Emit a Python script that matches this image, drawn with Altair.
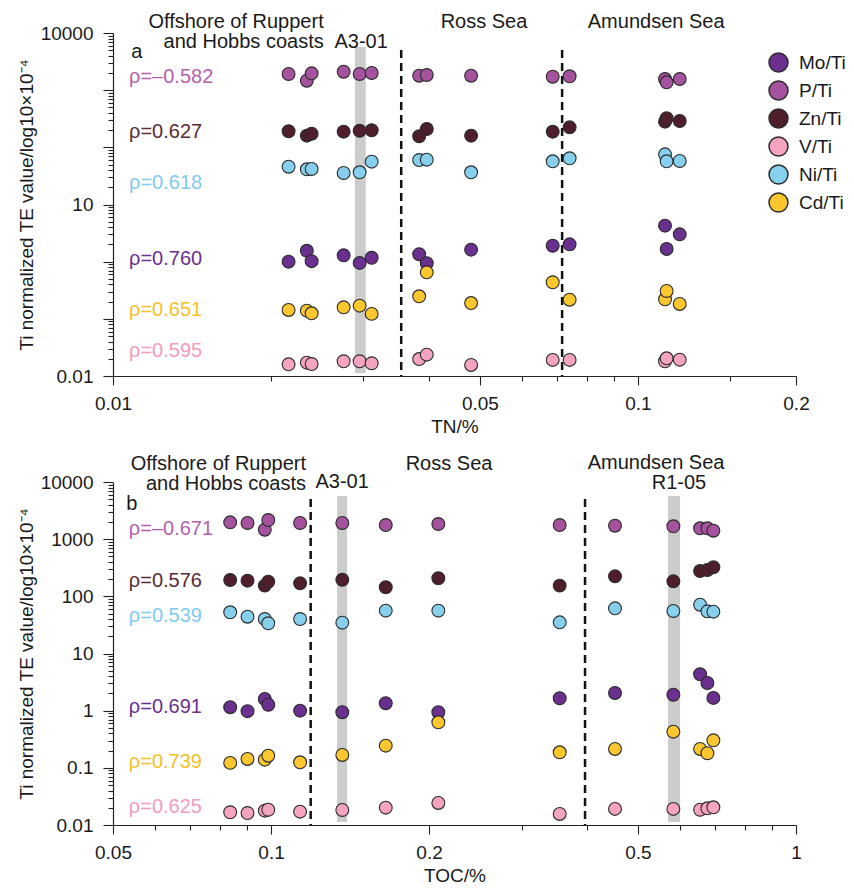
import altair as alt
import pandas as pd

FONT = "Liberation Sans"
series = ["Mo/Ti", "P/Ti", "Zn/Ti", "V/Ti", "Ni/Ti", "Cd/Ti"]
colors = ["#6a2f8f", "#a5539f", "#4e1e2b", "#f4a3c0", "#86d0ee", "#fcc62f"]
rho_colors = ["#b460ab", "#5a2a35", "#7fcbee", "#6a2f8f", "#f5c02a", "#f29bbd"]

# ---- panel a : TN/% ----
tn_a = [0.0216, 0.0234, 0.0239, 0.0275, 0.0295, 0.0311, 0.0383, 0.0396, 0.0481, 0.0688, 0.0741, 0.1126, 0.1134, 0.1201]
mo_a = [1.00, 1.55, 1.02, 1.29, 0.95, 1.17, 1.35, 0.94, 1.62, 1.90, 2.01, 4.26, 1.67, 3.01]
p_a = [1918, 1464, 1972, 2104, 1918, 1997, 1791, 1842, 1791, 1720, 1748, 1568, 1373, 1568]
zn_a = [191, 160, 173, 188, 195, 199, 156, 209, 160, 188, 224, 281, 322, 289]
v_a = [0.0160, 0.0171, 0.0162, 0.0181, 0.0181, 0.0167, 0.0198, 0.0236, 0.0156, 0.0191, 0.0191, 0.0181, 0.0204, 0.0193]
ni_a = [45.8, 41.3, 41.8, 35.6, 36.6, 56.1, 60.0, 60.8, 36.6, 57.0, 64.3, 75.5, 57.0, 57.7]
cd_a = [0.143, 0.139, 0.125, 0.159, 0.170, 0.122, 0.248, 0.651, 0.189, 0.436, 0.216, 0.220, 0.307, 0.182]
rho_a = ["ρ=–0.582", "ρ=0.627", "ρ=0.618", "ρ=0.760", "ρ=0.651", "ρ=0.595"]
rho_a_y = [1700, 185, 23.8, 1.11, 0.143, 0.0274]
dash_a = [0.0354, 0.0717]
band_a = [(0.0289, 0.0303)]

# ---- panel b : TOC/% ----
toc_b = [0.0836, 0.0902, 0.0973, 0.0988, 0.1136, 0.1367, 0.1654, 0.2083, 0.3547, 0.4521, 0.584, 0.6566, 0.678, 0.696]
mo_b = [1.15, 0.98, 1.60, 1.27, 1.00, 0.94, 1.35, 0.94, 1.65, 2.04, 1.90, 4.33, 3.05, 1.67]
p_b = [1972, 1918, 1464, 2164, 1918, 1918, 1769, 1842, 1769, 1720, 1680, 1550, 1550, 1406]
zn_b = [193, 188, 154, 180, 169, 195, 144, 207, 154, 224, 183, 277, 289, 322]
v_b = [0.0167, 0.0162, 0.0178, 0.0185, 0.0171, 0.0183, 0.0201, 0.0243, 0.0156, 0.0191, 0.0191, 0.0185, 0.0196, 0.0204]
ni_b = [52.6, 44.0, 40.1, 33.8, 40.1, 34.6, 56.1, 56.1, 35.1, 61.7, 55.4, 71.4, 54.7, 53.9]
cd_b = [0.122, 0.143, 0.139, 0.163, 0.125, 0.168, 0.244, 0.626, 0.187, 0.214, 0.429, 0.214, 0.180, 0.303]
rho_b = ["ρ=–0.671", "ρ=0.576", "ρ=0.539", "ρ=0.691", "ρ=0.739", "ρ=0.625"]
rho_b_y = [1506, 185, 45.3, 1.16, 0.126, 0.0207]
dash_b = [0.1190, 0.3964]
band_b = [(0.1336, 0.1396), (0.5704, 0.6014)]

# axis ticks / labels
x_a_ticks = [0.01, 0.02, 0.03, 0.04, 0.05, 0.06, 0.07, 0.08, 0.09, 0.1, 0.15, 0.2]
x_a_labels = [0.01, 0.05, 0.1, 0.2]
x_b_ticks = [0.05, 0.06, 0.07, 0.08, 0.09, 0.1, 0.2, 0.3, 0.4, 0.5, 0.6, 0.7, 0.8, 0.9, 1]
x_b_labels = [0.05, 0.1, 0.2, 0.5, 1]
y_ticks = sorted([round(m * 10 ** k, 8) for k in range(-2, 4) for m in range(1, 10)] + [10000])
y_a_labels = [0.01, 10, 10000]
y_b_labels = [0.01, 0.1, 1, 10, 100, 1000, 10000]

W, H = 683, 343
TXT = 20


def fmt_list(v):
    return "[" + ",".join(repr(x) for x in v) + "]"


def make_panel(xs, ys_by_series, xtitle, xdomain, xticks, xlabels, ylabels,
               rho_txt, rho_y, rho_x, dashes, bands, right_txt, center_txt, letter,
               legend):
    rows = []
    for s, vals in zip(series, ys_by_series):
        for x, y in zip(xs, vals):
            rows.append({"x": x, "y": y, "s": s})
    pts = pd.DataFrame(rows)

    xaxis = alt.Axis(
        values=xticks, format="~g", title=xtitle, grid=False,
        labelExpr=f"indexof({fmt_list(xlabels)}, datum.value) >= 0 ? datum.label : ''",
        tickSize={"condition": {"test": f"indexof({fmt_list(xlabels)}, datum.value) >= 0", "value": 9}, "value": 5},
        labelFlush=False, labelPadding=9, titlePadding=4,
        labelFontSize=19, titleFontSize=19, labelFont=FONT, titleFont=FONT,
        titleFontWeight="normal", labelColor="#1a1a1a", titleColor="#1a1a1a",
    )
    yaxis = alt.Axis(
        values=y_ticks, format="~g", title="Ti normalized TE value/log10×10⁻⁴", grid=False,
        labelExpr=f"indexof({fmt_list(ylabels)}, datum.value) >= 0 ? datum.label : ''",
        tickSize={"condition": {"test": "abs(log(datum.value)/LN10 - round(log(datum.value)/LN10)) < 0.000001", "value": 10}, "value": 5},
        labelFlush=False, labelPadding=10, titlePadding=4,
        labelFontSize=19, titleFontSize=19, labelFont=FONT, titleFont=FONT,
        titleFontWeight="normal", labelColor="#1a1a1a", titleColor="#1a1a1a",
    )
    xsc = alt.Scale(type="log", domain=xdomain, nice=False)
    ysc = alt.Scale(type="log", domain=[0.01, 10000], nice=False)

    def X(f):
        return alt.X(f, type="quantitative", scale=xsc, axis=xaxis)

    def Y(f):
        return alt.Y(f, type="quantitative", scale=ysc, axis=yaxis)

    band_df = pd.DataFrame({"x0": [b[0] for b in bands], "x1": [b[1] for b in bands]})
    band = alt.Chart(band_df).mark_rect(color="#cccccc").encode(
        x=X("x0"), x2="x1", y=alt.value(14), y2=alt.value(340))

    dash = alt.Chart(pd.DataFrame({"x": dashes})).mark_rule(
        color="#111111", strokeWidth=2.5, strokeDash=[8, 5]).encode(
        x=X("x"), y=alt.value(17), y2=alt.value(343))

    points = alt.Chart(pts).mark_circle(
        size=165, opacity=1, stroke="#2b2b2b", strokeWidth=1.1).encode(
        x=X("x"), y=Y("y"),
        color=alt.Color("s:N", scale=alt.Scale(domain=series, range=colors), legend=legend))

    rho_df = pd.DataFrame({"t": rho_txt, "y": rho_y, "c": rho_colors, "x": [rho_x] * 6})
    rho = alt.Chart(rho_df).mark_text(
        align="left", baseline="middle", fontSize=TXT, font=FONT).encode(
        x=X("x"), y=Y("y"), text="t:N", fill=alt.Fill("c:N", scale=None))

    layers = [band, dash, points, rho]
    for txt, xv, yv in right_txt:
        layers.append(alt.Chart(pd.DataFrame({"x": [xv], "t": [txt]})).mark_text(
            align="right", baseline="middle", fontSize=TXT, font=FONT, color="#1a1a1a").encode(
            x=X("x"), y=alt.value(yv), text="t:N"))
    for txt, xv, yv in center_txt:
        layers.append(alt.Chart(pd.DataFrame({"x": [xv], "t": [txt]})).mark_text(
            align="center", baseline="middle", fontSize=TXT, font=FONT, color="#1a1a1a").encode(
            x=X("x"), y=alt.value(yv), text="t:N"))
    lt, lx, ly = letter
    layers.append(alt.Chart(pd.DataFrame({"x": [lx], "t": [lt]})).mark_text(
        align="center", baseline="middle", fontSize=TXT, font=FONT, color="#1a1a1a").encode(
        x=X("x"), y=alt.value(ly), text="t:N"))

    return alt.layer(*layers).properties(width=W, height=H)


legend_a = alt.Legend(
    title=None, orient="none", legendX=655, legendY=19, symbolSize=360,
    symbolStrokeColor="#2b2b2b", symbolStrokeWidth=1.5, labelFontSize=19, labelFont=FONT,
    labelColor="#1a1a1a", rowPadding=3, labelOffset=10, padding=0, symbolType="circle")

pa = make_panel(
    tn_a, [mo_a, p_a, zn_a, v_a, ni_a, cd_a], "TN/%", [0.01, 0.2], x_a_ticks, x_a_labels, y_a_labels,
    rho_a, rho_a_y, 0.01073, dash_a, band_a,
    right_txt=[("Offshore of Ruppert", 0.0252, -11), ("and Hobbs coasts", 0.0252, 9)],
    center_txt=[("A3-01", 0.0297, 9), ("Ross Sea", 0.0509, -11), ("Amundsen Sea", 0.1083, -11)],
    letter=("a", 0.0111, 19), legend=legend_a)

pb = make_panel(
    toc_b, [mo_b, p_b, zn_b, v_b, ni_b, cd_b], "TOC/%", [0.05, 1], x_b_ticks, x_b_labels, y_b_labels,
    rho_b, rho_b_y, 0.0536, dash_b, band_b,
    right_txt=[("Offshore of Ruppert", 0.1166, -18), ("and Hobbs coasts", 0.1166, 2)],
    center_txt=[("A3-01", 0.1366, 0), ("Ross Sea", 0.2183, -18), ("Amundsen Sea", 0.5413, -19),
                ("R1-05", 0.5985, 1)],
    letter=("b", 0.0543, 22), legend=None)

chart = alt.vconcat(pa, pb, spacing=17).resolve_scale(color="independent").configure(
    font=FONT, padding={"left": 17, "top": 12, "right": 0, "bottom": 0}, background="white"
).configure_view(stroke=None).configure_axis(
    domainColor="#222222", domainWidth=1.2, tickColor="#222222", tickWidth=1.1,
)

chart.save("out.html", embed_options={"renderer": "svg", "actions": False})
